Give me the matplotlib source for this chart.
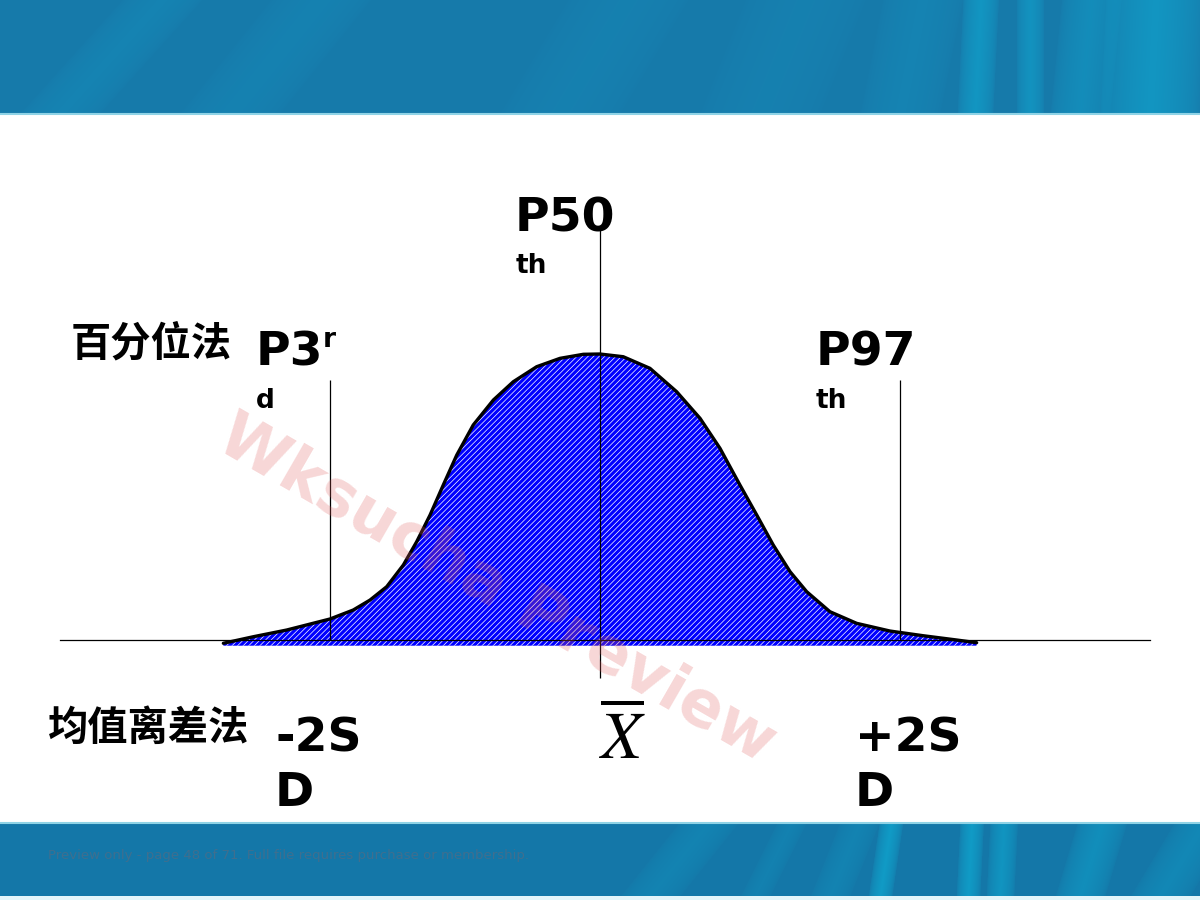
import numpy as np
import matplotlib
matplotlib.use('Agg')
from matplotlib import pyplot as plt

plt.rcParams['font.family'] = ['DejaVu Sans', 'Noto Sans CJK SC']
plt.rcParams['mathtext.fontset'] = 'stix'
plt.rcParams['hatch.linewidth'] = 0.5

# bell curve: position in SD units, height as density
z_vals = [-2.511, -2.311, -2.089, -1.800, -1.645, -1.533, -1.422, -1.311, -1.222, -1.133,
          -1.045, -0.955, -0.845, -0.711, -0.578, -0.422, -0.267, -0.111, 0.000,
          0.155, 0.333, 0.511, 0.667, 0.800, 0.933, 1.045, 1.155, 1.267, 1.378,
          1.533, 1.711, 1.933, 2.155, 2.378, 2.511]
dens_vals = [-0.0046, 0.0046, 0.0140, 0.0295, 0.0421, 0.0561, 0.0748, 0.1053, 0.1380, 0.1754,
             0.2175, 0.2596, 0.3018, 0.3368, 0.3625, 0.3836, 0.3953, 0.4010, 0.4014,
             0.3976, 0.3813, 0.3485, 0.3111, 0.2690, 0.2175, 0.1754, 0.1333, 0.0959, 0.0678,
             0.0397, 0.0234, 0.0126, 0.0060, 0.0000, -0.0038]
fill_base = -0.008

# the three marker lines (P3rd, P50th, P97th)
mark_z = [-1.80, 0.00, 2.00]
mark_bottom = [0.0, -0.053, 0.0]
mark_top = [0.365, 0.578, 0.365]

W, H = 1200, 900


def fx(x):
    return x / W


def fy(y):
    return 1 - y / H


def banner(h, w, streaks, base, light):
    yy, xx = np.mgrid[0:h, 0:w].astype(float)
    img = np.ones((h, w, 3)) * np.array(base)
    for x0, slope, width, amt in streaks:
        d = np.abs(xx - (x0 + slope * (h - yy)))
        m = np.clip(1 - d / width, 0, 1) ** 0.5 * amt
        img = img * (1 - m[..., None]) + np.array(light) * m[..., None]
    return img


fig = plt.figure(figsize=(12, 9), dpi=100)
fig.patch.set_facecolor('white')

# top banner
top = fig.add_axes([0, fy(113), 1, 113 / H])
top.imshow(banner(113, 1200,
                  [(60, 0.9, 40, 0.15), (230, 0.8, 50, 0.12), (560, 0.6, 60, 0.10),
                   (760, 0.4, 60, 0.10), (900, 0.2, 40, 0.15), (975, 0.05, 18, 0.45),
                   (1030, 0.0, 14, 0.40), (1080, 0.1, 30, 0.30), (1150, 0.05, 50, 0.45)],
                  (0.09, 0.48, 0.67), (0.05, 0.72, 0.87)), aspect='auto')
top.axis('off')
fig.add_artist(plt.Line2D([0, 1], [fy(114), fy(114)], color='#8fd3e6', lw=1.5))

# bottom banner
bot = fig.add_axes([0, fy(896), 1, 73 / H])
bot.imshow(banner(73, 1200,
                  [(650, 0.8, 30, 0.18), (755, 0.5, 15, 0.15), (830, 0.4, 20, 0.18),
                   (880, 0.15, 12, 0.55), (968, 0.05, 12, 0.55), (1000, 0.05, 14, 0.45),
                   (1080, 0.3, 25, 0.35), (1160, 0.6, 30, 0.25)],
                  (0.08, 0.47, 0.66), (0.05, 0.72, 0.87)), aspect='auto')
bot.axis('off')
fig.add_artist(plt.Line2D([0, 1], [fy(823), fy(823)], color='#8fd3e6', lw=1.5))
fig.add_artist(plt.Rectangle((0, 0), 1, fy(896), color='#e3f5fa', lw=0))

# main chart axes: x in SD units (150 px each), y in density
ax = fig.add_axes([0, 0, 1, 1], facecolor='none')
ax.set_xlim(-4, 4)
ax.set_ylim((640 - 900) * 0.4 / 285, 640 * 0.4 / 285)
ax.axis('off')

ax.fill_between(z_vals, dens_vals, fill_base, facecolor='#0000ff',
                edgecolor='white', linewidth=0, hatch='//////', zorder=2)
ax.plot(z_vals, dens_vals, color='black', lw=2.4, solid_capstyle='round',
        solid_joinstyle='round', zorder=3)
ax.axhline(0, xmin=fx(60), xmax=fx(1150), color='black', lw=0.9, zorder=4)
ax.vlines(mark_z, mark_bottom, mark_top, color='black', lw=0.9, zorder=4)

# labels
big = dict(fontsize=34, fontweight='bold', color='black', ha='left', va='baseline')
small = dict(fontsize=19, fontweight='bold', color='black', ha='left', va='baseline')
cjk = dict(fontsize=29, fontweight='bold', color='black', ha='left', va='center',
           family=['Noto Sans CJK SC', 'DejaVu Sans'])

fig.text(fx(515), fy(232), 'P50', **big)
fig.text(fx(516), fy(273), 'th', **small)
fig.text(fx(256), fy(365), 'P3', **big)
fig.text(fx(323), fy(347), 'r', **small)
fig.text(fx(256), fy(408), 'd', **small)
fig.text(fx(816), fy(365), 'P97', **big)
fig.text(fx(816), fy(408), 'th', **small)

fig.text(fx(71), fy(344), '百分位法', **cjk)
fig.text(fx(48), fy(728), '均值离差法', **cjk)

fig.text(fx(275), fy(752), '-2S', **big)
fig.text(fx(275), fy(806), 'D', **big)
fig.text(fx(855), fy(752), '+2S', **big)
fig.text(fx(855), fy(806), 'D', **big)

fig.text(fx(623), fy(758), r'$\overline{X}$', fontsize=48, ha='center',
         va='baseline', color='black')

# watermark and footer
fig.text(fx(497), fy(590), 'Wksucha Preview', fontsize=46, fontweight='bold',
         color='#e06060', alpha=0.25, rotation=-30, rotation_mode='anchor',
         ha='center', va='center', zorder=10)
fig.text(fx(48), fy(856), 'Preview only - page 48 of 71. Full file requires purchase or membership.',
         fontsize=9.5, color='#3f6f8f', ha='left', va='center')

plt.savefig('out.png', dpi=100)
